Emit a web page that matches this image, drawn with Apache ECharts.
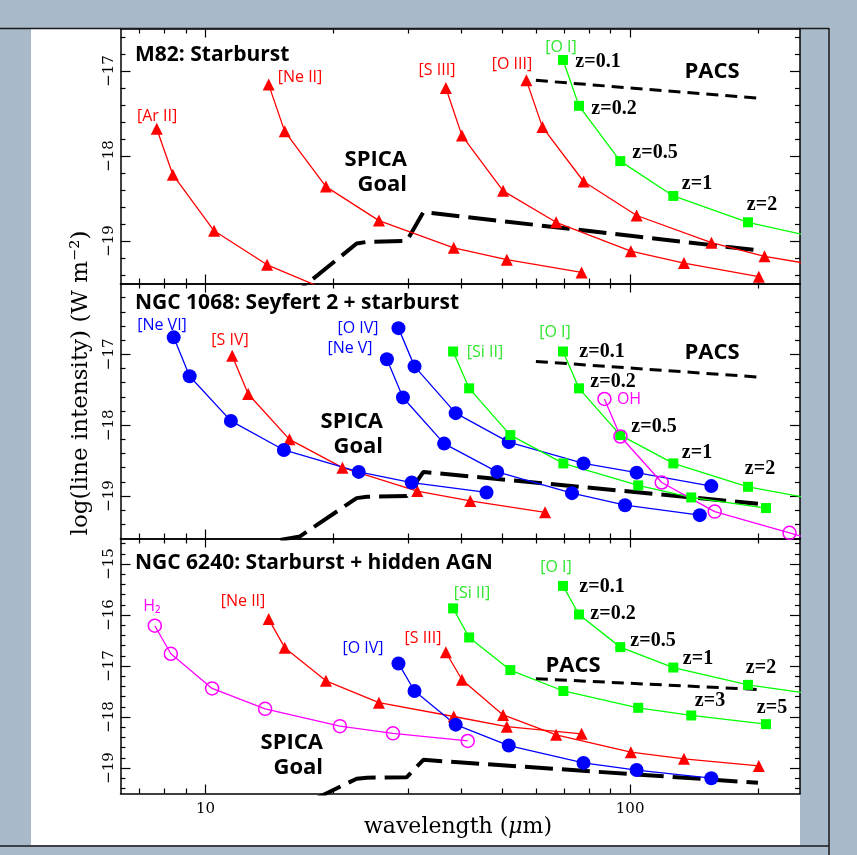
<!DOCTYPE html>
<html><head><meta charset="utf-8">
<script src="https://cdn.jsdelivr.net/npm/echarts@6/dist/echarts.min.js"></script>
<style>html,body{margin:0;padding:0;background:#a8b9c9}#c{width:857px;height:855px}</style>
</head><body><div id="c"></div>
<script>
// ---------------- data ----------------
const XMIN = 6.31, XMAX = 251.2;
const X_MAJOR = [10, 100];
const X_MINOR = [7, 8, 9, 20, 30, 40, 50, 60, 70, 80, 90, 200];

// reference sensitivity curves
const spicaWl = [15.0, 16.7, 22.7, 24.0, 29.8, 32.6, 200];
const spicaInt = [-19.62, -19.57, -19.03, -19.01, -19.00, -18.66, -19.11];
const spicaIntN6240 = [-19.80, -19.75, -19.21, -19.19, -19.18, -18.84, -19.29];
const pacsWl = [60, 200];
const pacsIntM82 = [-17.11, -17.32];
const pacsIntN1068 = [-17.10, -17.32];
const pacsIntN6240 = [-17.25, -17.46];

// M82: Starburst
const m82ArIIWl = [7.68, 8.38, 10.48, 13.97, 20.96];
const m82ArIIInt = [-17.68, -18.22, -18.88, -19.28, -19.65];
const m82NeIIWl = [14.09, 15.37, 19.22, 25.62, 38.43, 51.24, 76.86];
const m82NeIIInt = [-17.16, -17.71, -18.36, -18.76, -19.08, -19.22, -19.37];
const m82SIIIWl = [36.83, 40.18, 50.22, 66.96, 100.4, 133.9, 200.9];
const m82SIIIInt = [-17.20, -17.76, -18.41, -18.78, -19.12, -19.26, -19.42];
const m82OIIIWl = [56.99, 62.17, 77.72, 103.6, 155.4, 207.2, 310.9];
const m82OIIIInt = [-17.11, -17.66, -18.30, -18.70, -19.02, -19.18, -19.33];
const m82OIWl = [69.5, 75.8, 94.8, 126.4, 189.5, 253.5];
const m82OIInt = [-16.87, -17.41, -18.06, -18.47, -18.78, -18.92];

// NGC 1068: Seyfert 2 + starburst
const n1068NeVIWl = [8.42, 9.18, 11.48, 15.30, 22.96, 30.6, 45.9];
const n1068NeVIInt = [-16.76, -17.31, -17.94, -18.35, -18.66, -18.81, -18.95];
const n1068SIVWl = [11.56, 12.61, 15.77, 21.02, 31.53, 42.04, 63.06];
const n1068SIVInt = [-17.02, -17.56, -18.20, -18.60, -18.93, -19.07, -19.23];
const n1068NeVWl = [26.75, 29.18, 36.48, 48.64, 72.96, 97.28, 145.9];
const n1068NeVInt = [-17.07, -17.61, -18.26, -18.66, -18.96, -19.13, -19.27];
const n1068OIVWl = [28.48, 31.07, 38.84, 51.78, 77.67, 103.6, 155.3];
const n1068OIVInt = [-16.63, -17.17, -17.83, -18.24, -18.54, -18.67, -18.86];
const n1068SiIIWl = [38.3, 41.78, 52.23, 69.64, 104.5, 139.3, 208.9];
const n1068SiIIInt = [-16.96, -17.48, -18.14, -18.54, -18.85, -19.02, -19.17];
const n1068OIWl = [69.5, 75.8, 94.8, 126.4, 189.5, 253.5];
const n1068OIInt = [-16.96, -17.48, -18.14, -18.54, -18.87, -19.01];
const n1068OHWl = [87.0, 94.9, 118.7, 158.2, 237.3, 316.4];
const n1068OHInt = [-17.63, -18.16, -18.81, -19.22, -19.52, -19.73];

// NGC 6240: Starburst + hidden AGN
const n6240H2Wl = [7.60, 8.29, 10.37, 13.82, 20.73, 27.64, 41.46];
const n6240H2Int = [-16.21, -16.76, -17.44, -17.84, -18.18, -18.32, -18.47];
const n6240NeIIWl = [14.09, 15.37, 19.22, 25.62, 38.43, 51.24, 76.86];
const n6240NeIIInt = [-16.08, -16.64, -17.29, -17.72, -17.99, -18.19, -18.33];
const n6240OIVWl = [28.48, 31.07, 38.84, 51.78, 77.67, 103.6, 155.3];
const n6240OIVInt = [-16.95, -17.49, -18.15, -18.56, -18.90, -19.04, -19.20];
const n6240SIIIWl = [36.83, 40.18, 50.22, 66.96, 100.4, 133.9, 200.9];
const n6240SIIIInt = [-16.73, -17.27, -17.96, -18.35, -18.69, -18.82, -18.96];
const n6240SiIIWl = [38.3, 41.78, 52.23, 69.64, 104.5, 139.3, 208.9];
const n6240SiIIInt = [-15.87, -16.44, -17.08, -17.49, -17.82, -17.97, -18.14];
const n6240OIWl = [69.5, 75.8, 94.8, 126.4, 189.5, 253.5];
const n6240OIInt = [-15.43, -15.99, -16.63, -17.03, -17.37, -17.52];

// tick labels
const yMajorM82 = [-19, -18, -17];
const yMajorN1068 = [-19, -18, -17];
const yMajorN6240 = [-19, -18, -17, -16, -15];

// ---------------- layout / styles ----------------
const RED = '#ff0000', GREEN = '#00ff00', BLUE = '#0000ff', MAG = '#ff00ff';
const GREEN_TXT = '#2ee62e';
const GRID_LEFT = 120.5, GRID_W = 679.5, GRID_H = 255;

const panels = [
  { top: 28.5, yMin: -19.5, yMax: -16.5, yMajor: yMajorM82,
    refs: [[spicaWl, spicaInt, 'spica'], [pacsWl, pacsIntM82, 'pacs']],
    lines: [[m82ArIIWl, m82ArIIInt, 'tri'], [m82NeIIWl, m82NeIIInt, 'tri'], [m82SIIIWl, m82SIIIInt, 'tri'],
            [m82OIIIWl, m82OIIIInt, 'tri'], [m82OIWl, m82OIInt, 'sq']] },
  { top: 283.5, yMin: -19.6, yMax: -16.0, yMajor: yMajorN1068,
    refs: [[spicaWl, spicaInt, 'spica'], [pacsWl, pacsIntN1068, 'pacs']],
    lines: [[n1068SIVWl, n1068SIVInt, 'tri'], [n1068NeVIWl, n1068NeVIInt, 'circ'], [n1068NeVWl, n1068NeVInt, 'circ'],
            [n1068OIVWl, n1068OIVInt, 'circ'], [n1068SiIIWl, n1068SiIIInt, 'sq'], [n1068OIWl, n1068OIInt, 'sq'],
            [n1068OHWl, n1068OHInt, 'open']] },
  { top: 538.5, yMin: -19.5, yMax: -14.5, yMajor: yMajorN6240,
    refs: [[spicaWl, spicaIntN6240, 'spica'], [pacsWl, pacsIntN6240, 'pacs']],
    lines: [[n6240H2Wl, n6240H2Int, 'open'], [n6240NeIIWl, n6240NeIIInt, 'tri'], [n6240SIIIWl, n6240SIIIInt, 'tri'],
            [n6240OIVWl, n6240OIVInt, 'circ'], [n6240SiIIWl, n6240SiIIInt, 'sq'], [n6240OIWl, n6240OIInt, 'sq']] }
];

const KIND = {
  tri:  { color: RED, symbol: 'triangle', size: 12 },
  circ: { color: BLUE, symbol: 'circle', size: 14 },
  sq:   { color: GREEN, symbol: 'rect', size: 10 },
  open: { color: MAG, symbol: 'circle', size: 13, hollow: true }
};

const LX = Math.log10(XMIN), HX = Math.log10(XMAX);
const grids = [], xAxes = [], yAxes = [], series = [];

function xTickAxis(gi, pos, vals, len, showLine, labels) {
  return {
    type: 'value', gridIndex: gi, position: pos, min: LX, max: HX,
    axisLine: { show: showLine, onZero: false, lineStyle: { color: '#000', width: 1.5 } },
    axisTick: { show: true, inside: true, length: len, customValues: vals.map(Math.log10),
                lineStyle: { color: '#000', width: 1.2 } },
    axisLabel: labels ? { show: true, customValues: labels.map(Math.log10), margin: 8,
                formatter: v => String(Math.round(Math.pow(10, v))),
                fontFamily: 'DejaVu Serif', fontSize: 15, color: '#000' } : { show: false },
    splitLine: { show: false }
  };
}
function yTickAxis(gi, pos, p, vals, len, showLine, labels) {
  return {
    type: 'value', gridIndex: gi, position: pos, min: p.yMin, max: p.yMax,
    axisLine: { show: showLine, onZero: false, lineStyle: { color: '#000', width: 1.5 } },
    axisTick: { show: true, inside: true, length: len, customValues: vals,
                lineStyle: { color: '#000', width: 1.2 } },
    axisLabel: labels ? { show: true, customValues: labels, rotate: 90, margin: 4,
                formatter: v => '\u2212' + Math.abs(v),
                fontFamily: 'DejaVu Serif', fontSize: 15, color: '#000' } : { show: false },
    splitLine: { show: false }
  };
}

panels.forEach((p, gi) => {
  grids.push({ left: GRID_LEFT, top: p.top, width: GRID_W, height: GRID_H });
  const xb = xAxes.length;
  xAxes.push({ type: 'log', logBase: 10, gridIndex: gi, position: 'bottom', min: XMIN, max: XMAX,
               axisLine: { show: false, onZero: false }, axisTick: { show: false },
               axisLabel: { show: false }, splitLine: { show: false } });
  xAxes.push(xTickAxis(gi, 'bottom', X_MAJOR, 9, true, gi === 2 ? X_MAJOR : null));
  xAxes.push(xTickAxis(gi, 'bottom', X_MINOR, 5, false));
  xAxes.push(xTickAxis(gi, 'top', X_MAJOR, 9, true));
  xAxes.push(xTickAxis(gi, 'top', X_MINOR, 5, false));
  const minors = [];
  for (let k = Math.ceil(p.yMin * 5 + 1e-6); k <= Math.floor(p.yMax * 5 - 1e-6); k++) {
    if (k % 5 !== 0) minors.push(k / 5);
  }
  const yb = yAxes.length;
  yAxes.push(yTickAxis(gi, 'left', p, p.yMajor, 10, true, p.yMajor));
  yAxes.push(yTickAxis(gi, 'left', p, minors, 5, false));
  yAxes.push(yTickAxis(gi, 'right', p, p.yMajor, 10, true));
  yAxes.push(yTickAxis(gi, 'right', p, minors, 5, false));

  p.refs.forEach(([wl, v, kind]) => {
    series.push({
      type: 'line', xAxisIndex: xb, yAxisIndex: yb, clip: true, silent: true, animation: false,
      data: wl.map((w, k) => [w, v[k]]), symbol: 'none', z: 2,
      lineStyle: kind === 'spica' ? { color: '#000', width: 4, type: [28, 9] }
                                  : { color: '#000', width: 3, type: [12, 7] }
    });
  });
  p.lines.forEach(([wl, v, kind]) => {
    const k = KIND[kind];
    series.push({
      type: 'line', xAxisIndex: xb, yAxisIndex: yb, clip: true, silent: true, animation: false,
      data: wl.map((w, i) => [w, v[i]]), symbol: k.symbol, symbolSize: k.size, showSymbol: true,
      showAllSymbol: true, z: 3,
      lineStyle: { color: k.color, width: 1.3 },
      itemStyle: k.hollow ? { color: 'rgba(0,0,0,0)', borderColor: k.color, borderWidth: 1.5 }
                          : { color: k.color }
    });
  });
});

// ---------------- annotations ----------------
const LBL = '16px "Open Sans"';
const ZF = 'bold 20px "Liberation Serif"';
const BIG = 'bold 22px "Open Sans"';
const TITLE = 'bold 21px "Open Sans"';
const notes = [
  // panel 1
  ['M82: Starburst', 135, 55, '#000', TITLE, 'left'],
  ['[Ar II]', 157, 116, RED, LBL], ['[Ne II]', 300, 77, RED, LBL], ['[S III]', 437, 70, RED, LBL],
  ['[O III]', 512, 64, RED, LBL], ['[O I]', 561, 47, GREEN_TXT, LBL],
  ['z=0.1', 598, 62, '#000', ZF], ['z=0.2', 614, 109, '#000', ZF], ['z=0.5', 655, 153, '#000', ZF],
  ['z=1', 697, 184, '#000', ZF], ['z=2', 762, 205, '#000', ZF],
  ['PACS', 712, 72, '#000', BIG], ['SPICA', 407, 160, '#000', BIG, 'right'], ['Goal', 407, 185, '#000', BIG, 'right'],
  // panel 2
  ['NGC 1068: Seyfert 2 + starburst', 135, 303, '#000', TITLE, 'left'],
  ['[Ne VI]', 162, 325, BLUE, LBL], ['[S IV]', 230, 340, RED, LBL], ['[O IV]', 358, 328, BLUE, LBL],
  ['[Ne V]', 350, 348, BLUE, LBL], ['[Si II]', 485, 352, GREEN_TXT, LBL], ['[O I]', 555, 332, GREEN_TXT, LBL],
  ['OH', 629, 399, MAG, LBL],
  ['z=0.1', 602, 352, '#000', ZF], ['z=0.2', 613, 382, '#000', ZF], ['z=0.5', 654, 427, '#000', ZF],
  ['z=1', 697, 453, '#000', ZF], ['z=2', 760, 469, '#000', ZF],
  ['PACS', 712, 353, '#000', BIG], ['SPICA', 383, 422, '#000', BIG, 'right'], ['Goal', 383, 447, '#000', BIG, 'right'],
  // panel 3
  ['NGC 6240: Starburst + hidden AGN', 135, 563, '#000', TITLE, 'left'],
  ['H\u2082', 152, 606, MAG, LBL], ['[Ne II]', 243, 601, RED, LBL], ['[O IV]', 363, 648, BLUE, LBL],
  ['[S III]', 423, 638, RED, LBL], ['[Si II]', 472, 593, GREEN_TXT, LBL], ['[O I]', 556, 567, GREEN_TXT, LBL],
  ['z=0.1', 602, 587, '#000', ZF], ['z=0.2', 613, 614, '#000', ZF], ['z=0.5', 653, 641, '#000', ZF],
  ['z=1', 698, 659, '#000', ZF], ['z=2', 761, 668, '#000', ZF], ['z=3', 710, 701, '#000', ZF],
  ['z=5', 772, 708, '#000', ZF],
  ['PACS', 573, 666, '#000', BIG], ['SPICA', 323, 743, '#000', BIG, 'right'], ['Goal', 323, 768, '#000', BIG, 'right']
];

const graphic = [
  { type: 'rect', shape: { x: 31, y: 29, width: 769, height: 816 }, style: { fill: '#ffffff' }, z: -100, silent: true },
  { type: 'line', shape: { x1: 0, y1: 28.5, x2: 829, y2: 28.5 }, style: { stroke: '#1a1a1a', lineWidth: 1.5 }, z: 50, silent: true },
  { type: 'line', shape: { x1: 829, y1: 28, x2: 829, y2: 855 }, style: { stroke: '#1a1a1a', lineWidth: 1.5 }, z: 50, silent: true },
  { type: 'line', shape: { x1: 0, y1: 846, x2: 829, y2: 846 }, style: { stroke: '#1a1a1a', lineWidth: 1.5 }, z: 50, silent: true }
];
notes.forEach(([t, x, y, c, f, a]) => {
  graphic.push({ type: 'text', z: 100, silent: true,
    style: { text: t, x: x, y: y, fill: c, font: f, align: a || 'center', verticalAlign: 'middle' } });
});
graphic.push({ type: 'text', z: 100, silent: true, x: 458, y: 827,
  style: { text: 'wavelength ({i|\u03bc}m)', x: 0, y: 0, fill: '#000', font: '22px "DejaVu Serif"',
           align: 'center', verticalAlign: 'middle',
           rich: { i: { fontStyle: 'italic', fontFamily: 'DejaVu Serif', fontSize: 22 } } } });
graphic.push({ type: 'text', z: 100, silent: true, x: 81, y: 383, rotation: Math.PI / 2,
  style: { text: 'log(line intensity) (W m\u207b\u00b2)', x: 0, y: 0, fill: '#000', font: '23px "DejaVu Serif"',
           align: 'center', verticalAlign: 'middle' } });

const chart = echarts.init(document.getElementById('c'), null, { renderer: 'canvas' });
chart.setOption({
  backgroundColor: '#a8b9c9',
  animation: false,
  grid: grids, xAxis: xAxes, yAxis: yAxes, series: series, graphic: graphic
});
</script></body></html>
